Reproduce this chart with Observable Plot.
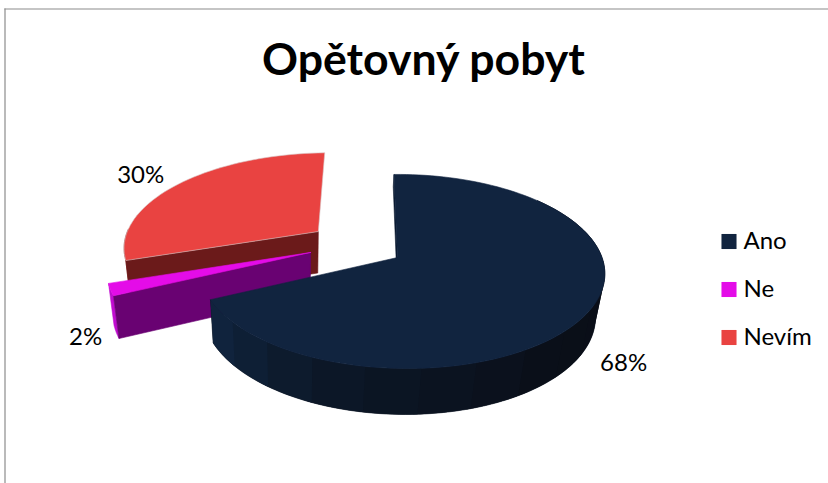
<!DOCTYPE html>
<html>
<head>
<meta charset="utf-8">
<script src="https://cdn.jsdelivr.net/npm/d3@7"></script>
<script src="https://cdn.jsdelivr.net/npm/@observablehq/plot@0.6"></script>
<style>
  html, body { margin: 0; padding: 0; background: #fff; }
  svg { display: block; }
</style>
</head>
<body>
<script>
// Survey answers, in percent
const categories = ["Ano", "Ne", "Nevím"];
const shares = [68, 2, 30];

// Slice colours: top surface, cut face, outer wall
const topColors = ["#11243f", "#e40ce8", "#e94341"];
const faceColors = ["#0a1a30", "#690272", "#6b1a1a"];
const wallColors = ["#0b1320", "#c10cd0", "#8a2422"];

// How far each slice is pulled out of the pie, on the pie's own plane
const pullU = [0, -0.441, -0.41];
const pullV = [0, 0.054, 0.287];
const spread = [1, 1.05, 1.035];

// Perspective view of the tilted disc: u to the right, v away, z downward
const view = {cx: 397, cy: 257, rx: 200, ry: 95, depth: 44, k: 0.144, m: -0.022, n: 0.03, shear: -4, sink: -3};
function project(u, v, z = 0) {
  const w = 1 + view.k * v + view.m * u + view.n * z;
  return {
    x: view.cx + (view.rx * u + view.shear * v + view.sink * z) / w,
    y: view.cy + (-view.ry * v + view.depth * z) / w
  };
}

const total = d3.sum(shares);
const ends = d3.cumsum(shares).map((s) => (s / total) * 2 * Math.PI);
const starts = ends.map((_, i) => (i ? ends[i - 1] : 0));

// Point on the rim of slice i at angle a (clockwise from the back of the pie)
const rim = (i, a, z = 0) =>
  project(pullU[i] + spread[i] * Math.sin(a), pullV[i] + spread[i] * Math.cos(a), z);
const apex = (i, z = 0) => project(pullU[i], pullV[i], z);
const arc = (i, a0, a1, z = 0, steps = 48) =>
  d3.range(steps + 1).map((s) => rim(i, a0 + ((a1 - a0) * s) / steps, z));

const shapes = [];
function addShape(id, points, fill, edge = fill) {
  const closed = [...points, points[0]];
  closed.forEach((p) => shapes.push({id, x: p.x, y: p.y, fill, edge}));
}

// Nevím: rim wall, cut face, top
addShape("nevim-wall", [...arc(2, starts[2], starts[2] + 0.35), ...arc(2, starts[2] + 0.35, starts[2], 1)], wallColors[2]);
addShape("nevim-face", [apex(2), rim(2, starts[2]), rim(2, starts[2], 1), apex(2, 1)], faceColors[2]);
addShape("nevim-top", [apex(2), ...arc(2, starts[2], ends[2])], topColors[2], "#d8c4c4");

// Ne: rim wall, cut face, top
addShape("ne-wall", [...arc(1, starts[1], ends[1]), ...arc(1, ends[1], starts[1], 1)], wallColors[1]);
addShape("ne-face", [apex(1), rim(1, starts[1]), rim(1, starts[1], 1), apex(1, 1)], faceColors[1]);
addShape("ne-top", [apex(1), ...arc(1, starts[1], ends[1])], topColors[1]);

// Ano: only a sliver of the back cut shows; the wall is shaded in bands
// that lighten toward its left end, over one solid base so no seams appear
addShape("ano-face", [apex(0), rim(0, 0), rim(0, 0, 0.3), apex(0, 0.3)], faceColors[0]);
const wallFrom = (50 * Math.PI) / 180;
addShape("ano-wall", [...arc(0, wallFrom, ends[0], 0, 120), ...arc(0, ends[0], wallFrom, 1, 120)], "#0b1422");
const bandShade = d3.scaleLinear().domain([0, 0.45, 0.8, 1]).range(["#090d15", "#0a0f19", "#0c1828", "#10233d"]);
const bands = 14;
d3.range(bands).forEach((b) => {
  const a0 = wallFrom + ((ends[0] - wallFrom) * b) / bands;
  const a1 = wallFrom + ((ends[0] - wallFrom) * (b + 1)) / bands + (b < bands - 1 ? 0.02 : 0);
  addShape(`ano-wall-${b}`, [...arc(0, a0, a1, 0, 8), ...arc(0, a1, a0, 1, 8)], bandShade(b / (bands - 1)), "none");
});
addShape("ano-top", [apex(0), ...arc(0, starts[0], ends[0], 0, 120)], topColors[0]);

// Value labels sit beside the middle of each slice's rim
const labelShift = [[37, 50], [-25, 48], [-38, -9]];
const valueLabels = categories.map((c, i) => {
  const p = rim(i, (starts[i] + ends[i]) / 2);
  return {text: `${shares[i]}%`, x: p.x + labelShift[i][0], y: p.y + labelShift[i][1]};
});

// Legend rows
const legendRows = categories.map((c, i) => ({c, color: topColors[i], y: 241 + 48 * i}));

const fontFamily = "Lato, 'Open Sans', sans-serif";

const chart = Plot.plot({
  width: 828,
  height: 483,
  marginTop: 8.5,
  marginLeft: 4.5,
  marginRight: 0,
  marginBottom: 0,
  x: {domain: [0, 828], range: [0, 828], axis: null},
  y: {domain: [0, 483], range: [0, 483], axis: null},
  color: {type: "identity"},
  style: {background: "#fff"},
  marks: [
    Plot.frame({anchor: "left", stroke: "#8c8c8c", strokeWidth: 1.2}),
    Plot.frame({anchor: "top", stroke: "#8c8c8c", strokeWidth: 1.2}),
    Plot.text(["Opětovný pobyt"], {
      x: 423, y: 60, fontSize: 44.6, fontWeight: 700, fontFamily, fill: "#000", textAnchor: "middle", lineAnchor: "middle"
    }),
    Plot.line(shapes, {x: "x", y: "y", z: "id", fill: "fill", stroke: "edge", strokeWidth: 0.6}),
    Plot.text(valueLabels, {
      x: "x", y: "y", text: "text", fontSize: 24, fontFamily, fill: "#000", textAnchor: "middle", lineAnchor: "middle"
    }),
    Plot.dot(legendRows, {x: 728.5, y: "y", symbol: "square", r: 8.5, fill: "color", stroke: "none"}),
    Plot.text(legendRows, {
      x: 743, y: "y", text: "c", fontSize: 24, fontFamily, fill: "#000", textAnchor: "start", lineAnchor: "middle"
    })
  ]
});
document.body.appendChild(chart);
</script>
</body>
</html>
